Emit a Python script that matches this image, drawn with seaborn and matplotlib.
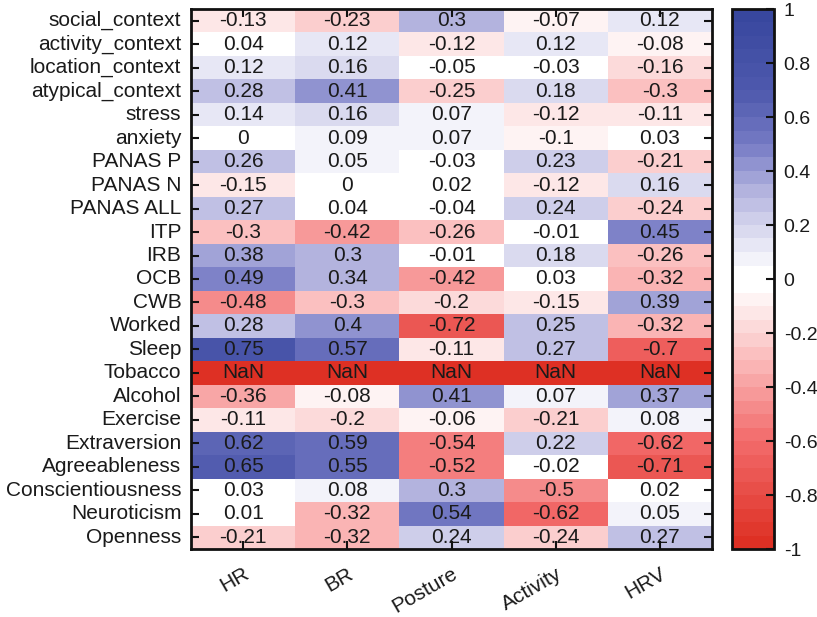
import numpy as np
import pandas as pd
import matplotlib
matplotlib.use("Agg")
import matplotlib.pyplot as plt
from matplotlib.colors import ListedColormap, LinearSegmentedColormap
import seaborn as sns

rows = ["social_context", "activity_context", "location_context", "atypical_context",
        "stress", "anxiety", "PANAS P", "PANAS N", "PANAS ALL", "ITP", "IRB", "OCB",
        "CWB", "Worked", "Sleep", "Tobacco", "Alcohol", "Exercise", "Extraversion",
        "Agreeableness", "Conscientiousness", "Neuroticism", "Openness"]
columns = ["HR", "BR", "Posture", "Activity", "HRV"]

nan = float("nan")
hr = [-0.13, 0.04, 0.12, 0.28, 0.14, 0, 0.26, -0.15, 0.27, -0.3, 0.38, 0.49,
      -0.48, 0.28, 0.75, nan, -0.36, -0.11, 0.62, 0.65, 0.03, 0.01, -0.21]
br = [-0.23, 0.12, 0.16, 0.41, 0.16, 0.09, 0.05, 0, 0.04, -0.42, 0.3, 0.34,
      -0.3, 0.4, 0.57, nan, -0.08, -0.2, 0.59, 0.55, 0.08, -0.32, -0.32]
posture = [0.3, -0.12, -0.05, -0.25, 0.07, 0.07, -0.03, 0.02, -0.04, -0.26, -0.01, -0.42,
           -0.2, -0.72, -0.11, nan, 0.41, -0.06, -0.54, -0.52, 0.3, 0.54, 0.24]
activity = [-0.07, 0.12, -0.03, 0.18, -0.12, -0.1, 0.23, -0.12, 0.24, -0.01, 0.18, 0.03,
            -0.15, 0.25, 0.27, nan, 0.07, -0.21, 0.22, -0.02, -0.5, -0.62, -0.24]
hrv = [0.12, -0.08, -0.16, -0.3, -0.11, 0.03, -0.21, 0.16, -0.24, 0.45, -0.26, -0.32,
       0.39, -0.32, -0.7, nan, 0.37, 0.08, -0.62, -0.71, 0.02, 0.05, 0.27]
cbar_ticks = [-1, -0.8, -0.6, -0.4, -0.2, 0, 0.2, 0.4, 0.6, 0.8, 1]

df = pd.DataFrame({"HR": hr, "BR": br, "Posture": posture, "Activity": activity, "HRV": hrv},
                  index=rows)[columns]

def fmt(v):
    if np.isnan(v):
        return "NaN"
    return "{:g}".format(v)

annot = np.vectorize(fmt)(df.values)

# discrete diverging colormap: 20 levels each side, innermost levels white
red_side = LinearSegmentedColormap.from_list(
    "r", [(0.0, (1, 1, 1)), (0.3, (0.98, 0.72, 0.72)), (0.6, (0.95, 0.42, 0.42)),
          (1.0, (0.87, 0.19, 0.14))])
blue_side = LinearSegmentedColormap.from_list(
    "b", [(0.0, (1, 1, 1)), (0.3, (0.72, 0.72, 0.88)), (0.5, (0.46, 0.48, 0.77)),
          (0.7, (0.31, 0.35, 0.68)), (1.0, (0.22, 0.28, 0.62))])
n = 20
t = np.linspace(0, 1, n)
reds = [red_side(x) for x in t[::-1]]
blues = [blue_side(x) for x in t]
cmap = ListedColormap(reds + blues)
cmap.set_bad(red_side(1.0))

plt.rcParams["font.family"] = ["Liberation Sans", "DejaVu Sans"]
fig = plt.figure(figsize=(8.17, 6.17), dpi=100)
W, H = 817, 617
ax = fig.add_axes([191 / W, (H - 549) / H, (712 - 191) / W, (549 - 9) / H])
cax = fig.add_axes([732 / W, (H - 549) / H, (774 - 732) / W, (549 - 9) / H])

sns.heatmap(df, ax=ax, cbar_ax=cax, cmap=cmap, vmin=-1, vmax=1, annot=annot, fmt="",
            annot_kws={"color": "#1a1a1a", "fontsize": 15},
            cbar_kws={"ticks": cbar_ticks})

# NaN cell labels (seaborn skips masked cells)
for i, r in enumerate(rows):
    for j, c in enumerate(columns):
        if np.isnan(df.loc[r, c]):
            ax.text(j + 0.5, i + 0.5, "NaN", ha="center", va="center",
                    color="#1a1a1a", fontsize=15)

for s in ax.spines.values():
    s.set_visible(True)
    s.set_linewidth(2)
    s.set_color("#111111")
    s.set_zorder(5)
ax.set_axisbelow(False)
for axis in (ax.xaxis, ax.yaxis):
    axis.set_zorder(4)

ax.tick_params(axis="both", direction="in", length=6, width=1.5, color="#111111",
               top=True, right=True, labelsize=15, labelcolor="#1a1a1a")
ax.tick_params(axis="y", pad=7)
ax.set_yticklabels(rows, rotation=0)
ax.set_xticklabels(columns, rotation=30, ha="right", rotation_mode="anchor")
ax.tick_params(axis="x", pad=11)
ax.set_xlabel("")
ax.set_ylabel("")

cbar = ax.collections[0].colorbar
cbar.outline.set_visible(True)
cbar.outline.set_linewidth(2)
cbar.outline.set_edgecolor("#111111")
cax.set_axisbelow(False)
cax.yaxis.set_zorder(4)
cax.tick_params(direction="in", length=6, width=1.5, color="#111111", labelsize=14,
                pad=7, labelcolor="#1a1a1a")
cbar.set_ticklabels([fmt(v) for v in cbar_ticks])

fig.savefig("out.png", dpi=100)
